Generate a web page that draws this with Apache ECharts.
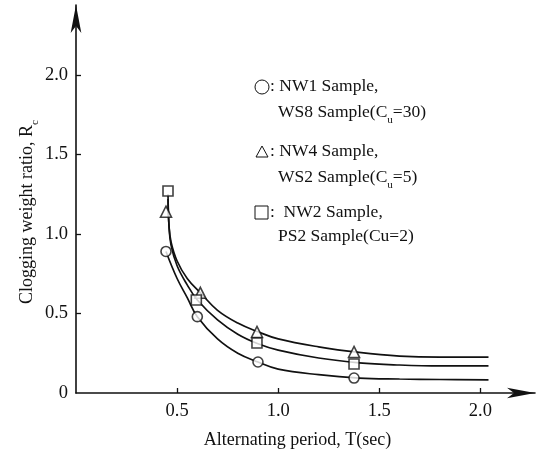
<!DOCTYPE html>
<html>
<head>
<meta charset="utf-8">
<script src="https://cdn.jsdelivr.net/npm/echarts@6/dist/echarts.min.js"></script>
<style>
html,body{margin:0;padding:0;background:#fff;}
#chart{width:536px;height:464px;}
</style>
</head>
<body>
<div id="chart"></div>
<script>
// Measured points: [T (sec), Rc]
var circlePts   = [[0.445, 0.89], [0.60, 0.48], [0.90, 0.195], [1.375, 0.094]];
var trianglePts = [[0.445, 1.14], [0.615, 0.63], [0.895, 0.384], [1.375, 0.258]];
var squarePts   = [[0.455, 1.27], [0.595, 0.585], [0.895, 0.314], [1.375, 0.182]];

// Fitted trend curves
var triangleCurve = [[0.455, 1.22], [0.46, 1.05], [0.47, 0.95], [0.50, 0.83], [0.55, 0.72], [0.615, 0.63],
  [0.70, 0.52], [0.80, 0.44], [0.90, 0.385], [1.00, 0.34], [1.20, 0.29], [1.40, 0.255], [1.60, 0.232],
  [1.80, 0.225], [2.04, 0.225]];
var squareCurve = [[0.455, 1.25], [0.46, 1.05], [0.47, 0.93], [0.50, 0.80], [0.55, 0.68], [0.60, 0.585],
  [0.70, 0.46], [0.80, 0.37], [0.90, 0.31], [1.00, 0.27], [1.20, 0.22], [1.40, 0.19], [1.60, 0.176],
  [1.80, 0.17], [2.04, 0.17]];
var circleCurve = [[0.445, 0.89], [0.50, 0.72], [0.55, 0.60], [0.60, 0.48], [0.70, 0.34], [0.80, 0.25],
  [0.90, 0.195], [1.00, 0.15], [1.20, 0.115], [1.40, 0.094], [1.60, 0.088], [1.80, 0.085], [2.04, 0.082]];

var xTicks = [0.5, 1.0, 1.5, 2.0];
var yTicks = [0, 0.5, 1.0, 1.5, 2.0];

var FONT = '"Liberation Serif", "DejaVu Serif", serif';
var INK = '#111';

var chart = echarts.init(document.getElementById('chart'), null, {renderer: 'canvas'});

function curve(data) {
  return {
    type: 'line', data: data, smooth: 0.4, showSymbol: false, symbol: 'none',
    lineStyle: {color: INK, width: 1.7}, silent: true, z: 2
  };
}
function pts(data, symbol, size) {
  return {
    type: 'scatter', data: data, symbol: symbol, symbolSize: size,
    itemStyle: {color: '#fff', borderColor: INK, borderWidth: 1.6}, z: 3
  };
}

var sub = {fontSize: 11, fontFamily: FONT, color: INK, verticalAlign: 'bottom', padding: [0, 0, -5, 0]};
function legendText(x, y, txt) {
  return {
    type: 'text', left: x, top: y,
    style: {text: txt, font: '17.5px ' + FONT, fill: INK, rich: {s: sub}}
  };
}

chart.setOption({
  animation: false,
  backgroundColor: '#fff',
  grid: {left: 76, right: 1, top: 5, bottom: 71},
  xAxis: {
    type: 'value', min: 0, max: 2.27,
    name: 'Alternating period, T(sec)', nameLocation: 'middle', nameGap: 38,
    nameTextStyle: {fontFamily: FONT, fontSize: 18, color: INK, padding: [0, 16, 0, 0]},
    axisLine: {show: true, symbol: ['none', 'arrow'], symbolSize: [8, 28], lineStyle: {color: INK, width: 1.6}},
    axisTick: {show: true, inside: true, length: 5, customValues: xTicks, lineStyle: {color: INK, width: 1.3}},
    axisLabel: {customValues: xTicks, formatter: function (v) { return v.toFixed(1); },
      fontFamily: FONT, fontSize: 18.5, color: INK, margin: 9},
    splitLine: {show: false}
  },
  yAxis: {
    type: 'value', min: 0, max: 2.44,
    name: 'Clogging weight ratio, R{s|c}', nameLocation: 'middle', nameGap: 40,
    nameMoveOverlap: false,
    nameTextStyle: {fontFamily: FONT, fontSize: 18, color: INK, rich: {s: sub}, padding: [0, 26, 0, 0]},
    axisLine: {show: true, symbol: ['none', 'arrow'], symbolSize: [8, 28], lineStyle: {color: INK, width: 1.6}},
    axisTick: {show: true, inside: true, length: 5, customValues: [0.5, 1.0, 1.5, 2.0], lineStyle: {color: INK, width: 1.3}},
    axisLabel: {customValues: yTicks, formatter: function (v) { return v === 0 ? '0' : v.toFixed(1); },
      fontFamily: FONT, fontSize: 18.5, color: INK, margin: 8},
    splitLine: {show: false}
  },
  series: [
    curve(triangleCurve), curve(squareCurve), curve(circleCurve),
    pts(circlePts, 'circle', 10),
    pts(trianglePts, 'triangle', 11),
    pts(squarePts, 'rect', 10)
  ],
  graphic: [
    {type: 'circle', shape: {cx: 262, cy: 87, r: 7}, style: {fill: '#fff', stroke: INK, lineWidth: 1}},
    legendText(270, 77, ': NW1 Sample,'),
    legendText(278, 103, 'WS8 Sample(C{s|u}=30)'),
    {type: 'polygon', shape: {points: [[262, 146], [256, 157], [268, 157]]}, style: {fill: '#fff', stroke: INK, lineWidth: 1}},
    legendText(270, 142, ': NW4 Sample,'),
    legendText(278, 168, 'WS2 Sample(C{s|u}=5)'),
    {type: 'rect', shape: {x: 255, y: 206, width: 13, height: 13}, style: {fill: '#fff', stroke: INK, lineWidth: 1}},
    legendText(270, 203, ':  NW2 Sample,'),
    legendText(278, 227, 'PS2 Sample(Cu=2)')
  ]
});
</script>
</body>
</html>
